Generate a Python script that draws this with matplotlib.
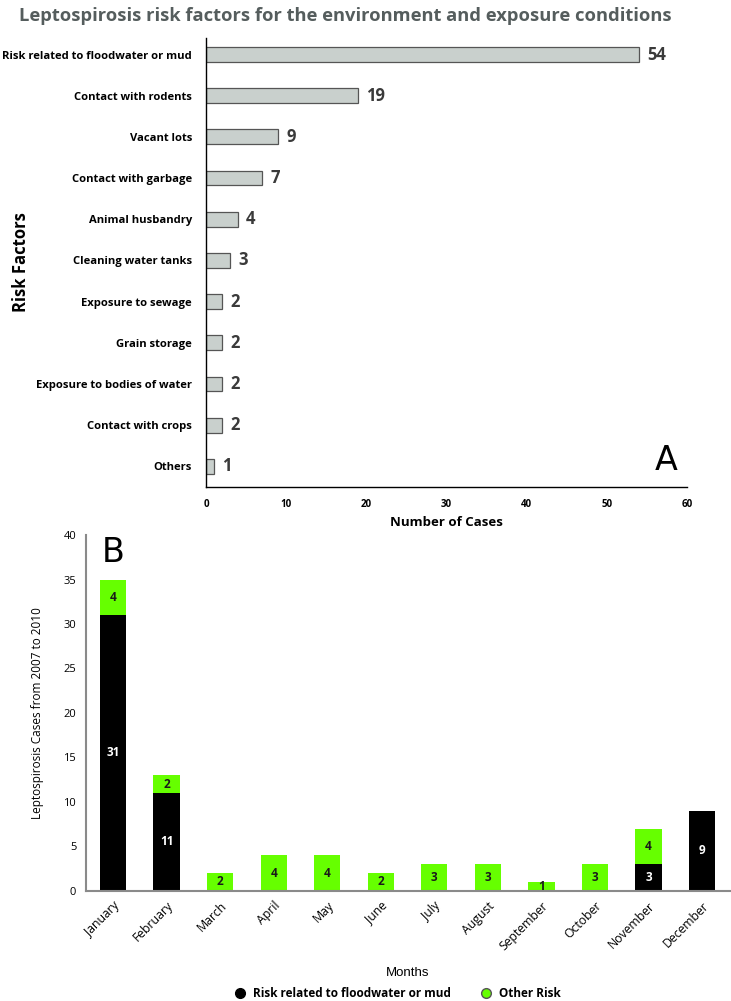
import matplotlib.pyplot as plt
import numpy as np

factors = ["Risk related to floodwater or mud", "Contact with rodents", "Vacant lots",
           "Contact with garbage", "Animal husbandry", "Cleaning water tanks",
           "Exposure to sewage", "Grain storage", "Exposure to bodies of water",
           "Contact with crops", "Others"]
factor_cases = [54, 19, 9, 7, 4, 3, 2, 2, 2, 2, 1]

months = ["January", "February", "March", "April", "May", "June", "July",
          "August", "September", "October", "November", "December"]
flood_cases = [31, 11, 0, 0, 0, 0, 0, 0, 0, 0, 3, 9]
other_cases = [4, 2, 2, 4, 4, 2, 3, 3, 1, 3, 4, 0]

font = ["Open Sans", "DejaVu Sans"]
green = "#66ff00"

fig = plt.figure(figsize=(7.31, 10.01), dpi=100)

# panel A
ax1 = fig.add_axes([0.2818, 0.5135, 0.6585, 0.4485])
ypos = np.arange(len(factors))
ax1.barh(ypos, factor_cases, height=0.36, color="#c9d0cd", edgecolor="#555555", linewidth=0.9)
for y, v in zip(ypos, factor_cases):
    ax1.text(v + 1.0, y, str(v), va="center", ha="left", fontsize=12, fontweight="bold",
             color="#3a3a3a", family=font)
ax1.set_ylim(10.5, -0.4)
ax1.set_xlim(0, 60)
ax1.set_yticks(ypos)
ax1.set_yticklabels(factors, fontsize=8.1, fontweight="bold", family=font)
ax1.set_xticks(range(0, 61, 10))
ax1.set_xticklabels([str(t) for t in range(0, 61, 10)], fontsize=7, fontweight="bold", family=font)
ax1.tick_params(length=0, pad=10)
ax1.tick_params(axis="x", pad=9)
for s in ["top", "right"]:
    ax1.spines[s].set_visible(False)
ax1.spines["left"].set_linewidth(1.0)
ax1.spines["bottom"].set_linewidth(1.0)
ax1.set_xlabel("Number of Cases", fontsize=9.5, fontweight="bold", family=font, labelpad=4)
ax1.set_ylabel("Risk Factors", fontsize=12, fontweight="bold", family=font, labelpad=8)
ax1.yaxis.set_label_coords(-0.365, 0.5)
ax1.text(0.955, 0.06, "A", transform=ax1.transAxes, fontsize=24, ha="center", va="center")
fig.text(0.472, 0.984, "Leptospirosis risk factors for the environment and exposure conditions",
         ha="center", va="center", fontsize=13.2, fontweight="bold", color="#555d5d", family=font)

# panel B
ax2 = fig.add_axes([0.1176, 0.110, 0.881, 0.3555])
x = np.arange(len(months))
ax2.bar(x, flood_cases, width=0.49, color="black", label="Risk related to floodwater or mud")
ax2.bar(x, other_cases, width=0.49, bottom=flood_cases, color=green, label="Other Risk")
for i in x:
    f, o = flood_cases[i], other_cases[i]
    if f > 0:
        ax2.text(i, f / 2, str(f), ha="center", va="center", color="white", fontsize=8.5,
                 fontweight="bold", family=font)
    if o > 0:
        ax2.text(i, f + o / 2, str(o), ha="center", va="center", color="#1a1a1a", fontsize=8.5,
                 fontweight="bold", family=font)
ax2.set_xlim(-0.505, 11.52)
ax2.set_ylim(0, 40)
ax2.set_yticks(range(0, 41, 5))
ax2.set_yticklabels([str(t) for t in range(0, 41, 5)], fontsize=8, family=font)
ax2.set_xticks(x)
ax2.set_xticklabels(months, rotation=45, ha="right", rotation_mode="anchor", fontsize=8.8, family=font)
ax2.tick_params(length=0, pad=7)
ax2.tick_params(axis="x", pad=6)
for s in ["top", "right"]:
    ax2.spines[s].set_visible(False)
ax2.spines["left"].set_color("#8a8a8a")
ax2.spines["bottom"].set_color("#8a8a8a")
ax2.spines["left"].set_linewidth(1.5)
ax2.spines["bottom"].set_linewidth(1.5)
ax2.set_ylabel("Leptospirosis Cases from 2007 to 2010", fontsize=8.5, family=font)
ax2.yaxis.set_label_coords(-0.065, 0.5)
ax2.set_xlabel("Months", fontsize=9.5, family=["Liberation Sans", "DejaVu Sans"], labelpad=10)
ax2.text(0, 38, "B", fontsize=24, ha="center", va="center")

h1 = plt.Line2D([], [], marker="o", linestyle="", markersize=7, markerfacecolor="black",
                markeredgecolor="black")
h2 = plt.Line2D([], [], marker="o", linestyle="", markersize=7, markerfacecolor=green,
                markeredgecolor="#555555")
fig.legend([h1, h2], ["Risk related to floodwater or mud", "Other Risk"], loc="center",
           bbox_to_anchor=(0.54, 0.0075), ncol=2, frameon=False, handletextpad=0.1,
           columnspacing=2.0, borderpad=0.1, prop={"family": font, "weight": "bold", "size": 8.5})

fig.savefig("out.png", dpi=100)
